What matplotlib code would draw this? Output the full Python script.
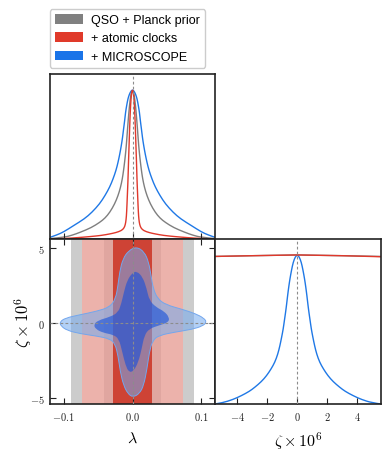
import matplotlib
matplotlib.use("Agg")
import matplotlib.pyplot as plt
from matplotlib.patches import Patch, PathPatch
from matplotlib.path import Path

plt.rcParams['mathtext.fontset'] = 'cm'
plt.rcParams['font.family'] = ['Liberation Sans', 'DejaVu Sans']

# colours of the three data sets
c_gray = '#7f7f7f'
c_red = '#e0382b'
c_blue = '#1f78e6'
labels = ['QSO + Planck prior', '+ atomic clocks', '+ MICROSCOPE']

# 1D marginal of lambda (normalised to peak)
lam_blue = [-0.12, -0.11, -0.10, -0.086, -0.07, -0.059, -0.048, -0.040, -0.033, -0.0283, -0.024, -0.021,
            -0.0185, -0.0163, -0.0145, -0.013, -0.0115, -0.0101, -0.0085, -0.0067, -0.0045, -0.002, 0.0,
            0.002, 0.0045, 0.0067, 0.0085, 0.0101, 0.0115, 0.013, 0.0145, 0.0163, 0.0185,
            0.021, 0.024, 0.0283, 0.033, 0.040, 0.048, 0.059, 0.07, 0.086, 0.10, 0.11, 0.12]
p_blue = [0.011, 0.027, 0.048, 0.089, 0.135, 0.179, 0.235, 0.291, 0.35, 0.403, 0.46, 0.515,
          0.57, 0.626, 0.68, 0.738, 0.79, 0.85, 0.895, 0.94, 0.972, 0.994, 1.0,
          0.994, 0.972, 0.94, 0.895, 0.85, 0.79, 0.738, 0.68, 0.626, 0.57,
          0.515, 0.46, 0.403, 0.35, 0.291, 0.235, 0.179, 0.135, 0.089, 0.048, 0.027, 0.011]
lam_gray = [-0.12, -0.10, -0.088, -0.076, -0.06, -0.0475, -0.040, -0.033, -0.026, -0.021, -0.0175, -0.0148,
            -0.013, -0.0115, -0.0102, -0.009, -0.0072, -0.0053, -0.0038, -0.0022, 0.0,
            0.0022, 0.0038, 0.0053, 0.0072, 0.009, 0.0102, 0.0115, 0.013,
            0.0148, 0.0175, 0.021, 0.026, 0.033, 0.040, 0.0475, 0.06, 0.076, 0.088, 0.10, 0.12]
p_gray = [0.003, 0.011, 0.025, 0.045, 0.076, 0.112, 0.14, 0.179, 0.235, 0.291, 0.345, 0.403,
          0.46, 0.515, 0.57, 0.626, 0.74, 0.85, 0.92, 0.975, 1.0,
          0.975, 0.92, 0.85, 0.74, 0.626, 0.57, 0.515, 0.46,
          0.403, 0.345, 0.291, 0.235, 0.179, 0.14, 0.112, 0.076, 0.045, 0.025, 0.011, 0.003]
lam_red = [-0.12, -0.10, -0.08, -0.062, -0.045, -0.033, -0.024, -0.0163, -0.0125, -0.0105, -0.0093, -0.0085,
           -0.0075, -0.0065, -0.0058, -0.005, -0.0042, -0.0033, -0.0022, -0.001, 0.0,
           0.001, 0.0022, 0.0033, 0.0042, 0.005, 0.0058, 0.0065, 0.0075,
           0.0085, 0.0093, 0.0105, 0.0125, 0.0163, 0.024, 0.033, 0.045, 0.062, 0.08, 0.10, 0.12]
p_red = [0.0, 0.003, 0.009, 0.016, 0.024, 0.034, 0.043, 0.056, 0.072, 0.095, 0.13, 0.179,
         0.29, 0.403, 0.52, 0.626, 0.74, 0.85, 0.94, 0.99, 1.0,
         0.99, 0.94, 0.85, 0.74, 0.626, 0.52, 0.403, 0.29,
         0.179, 0.13, 0.095, 0.072, 0.056, 0.043, 0.034, 0.024, 0.016, 0.009, 0.003, 0.0]

# 1D marginal of zeta x 1e6
zeta_blue = [-5.5, -5.0, -4.3, -3.73, -3.2, -2.84, -2.4, -2.05, -1.75, -1.50, -1.3, -1.16, -1.04, -0.94,
             -0.86, -0.78, -0.71, -0.645, -0.57, -0.49, -0.38, -0.27, -0.13, 0.0,
             0.13, 0.27, 0.38, 0.49, 0.57, 0.645, 0.71, 0.78, 0.86,
             0.94, 1.04, 1.16, 1.3, 1.50, 1.75, 2.05, 2.4, 2.84, 3.2, 3.73, 4.3, 5.0, 5.6]
pz_blue = [0.0, 0.008, 0.03, 0.056, 0.085, 0.112, 0.15, 0.19, 0.235, 0.28, 0.335, 0.391, 0.45, 0.503,
           0.56, 0.615, 0.67, 0.727, 0.785, 0.839, 0.9, 0.951, 0.988, 1.0,
           0.988, 0.951, 0.9, 0.839, 0.785, 0.727, 0.67, 0.615, 0.56,
           0.503, 0.45, 0.391, 0.335, 0.28, 0.235, 0.19, 0.15, 0.112, 0.085, 0.056, 0.03, 0.008, 0.0]
zeta_flat = [-5.5, -3.0, 0.0, 3.0, 5.6]
pz_gray = [0.99, 0.995, 1.0, 0.995, 0.99]
pz_red = [0.99, 0.995, 1.0, 0.995, 0.988]

# lambda intervals (68%, 95%) for the sets that do not constrain zeta
gray_lims = [0.041, 0.089]
red_lims = [0.028, 0.074]

# 2D contours (lambda, zeta) of the full combination, boundary vertices
outer_lam = [0.0062, 0.0173, 0.0235, 0.0269, 0.0302, 0.0364, 0.0484, 0.0724, 0.0916, 0.1036, 0.108, 0.102,
             0.0868, 0.0628, 0.0388, 0.0293, 0.0245, 0.0211, 0.0163, 0.0101, 0.0005, -0.0067, -0.0129,
             -0.0177, -0.0211, -0.0254, -0.0331, -0.0523, -0.0763, -0.0954, -0.104, -0.106, -0.0978,
             -0.0763, -0.0523, -0.0331, -0.0245, -0.0211, -0.0187, -0.0139, -0.0053]
outer_zeta = [5.08, 4.73, 4.06, 3.18, 2.29, 1.62, 1.22, 0.91, 0.62, 0.33, 0.06, -0.20,
              -0.42, -0.60, -0.82, -1.16, -1.94, -3.05, -4.16, -4.71, -4.95, -4.71, -4.16,
              -3.27, -2.16, -1.38, -1.05, -0.87, -0.71, -0.49, -0.20, 0.06, 0.33,
              0.55, 0.78, 1.06, 1.62, 2.51, 3.40, 4.29, 4.84]
inner_lam = [0.0062, 0.0149, 0.0206, 0.0245, 0.0341, 0.046, 0.0532, 0.0528, 0.0388, 0.0245, 0.0173, 0.0134,
             0.0086, 0.0014, -0.0053, -0.0101, -0.0149, -0.0197, -0.0283, -0.0427, -0.0532, -0.0566,
             -0.0499, -0.0331, -0.0211, -0.0163, -0.0125, -0.0077, -0.0005]
inner_zeta = [3.46, 3.06, 2.29, 1.51, 1.06, 0.78, 0.40, 0.06, -0.16, -0.38, -0.82, -1.71,
              -2.60, -3.22, -3.28, -2.82, -1.94, -1.05, -0.78, -0.65, -0.42, -0.11,
              0.18, 0.40, 0.69, 1.29, 2.06, 2.84, 3.33]

lam_ticks = [-0.1, 0.0, 0.1]
lam_ticklabels = ['$-0.1$', '$0.0$', '$0.1$']
zeta_yticks = [-5, 0, 5]
zeta_yticklabels = ['$-5$', '$0$', '$5$']
zeta_xticks = [-4, -2, 0, 2, 4]
zeta_xticklabels = ['$-4$', '$-2$', '$0$', '$2$', '$4$']

lam_range = (-0.12, 0.12)
zeta_range = (-5.4, 5.6)


def smooth_path(xs, ys, closed=False):
    # quadratic bezier through the midpoints, the read points act as control points
    pts = list(zip(xs, ys))
    n = len(pts)
    mid = lambda a, b: ((a[0] + b[0]) / 2, (a[1] + b[1]) / 2)
    if closed:
        verts = [mid(pts[-1], pts[0])]
        codes = [Path.MOVETO]
        for i in range(n):
            verts += [pts[i], mid(pts[i], pts[(i + 1) % n])]
            codes += [Path.CURVE3, Path.CURVE3]
        return Path(verts, codes)
    verts = [pts[0]]
    codes = [Path.MOVETO]
    for i in range(1, n - 1):
        end = pts[i + 1] if i == n - 2 else mid(pts[i], pts[i + 1])
        verts += [pts[i], end]
        codes += [Path.CURVE3, Path.CURVE3]
    return Path(verts, codes)


def curve(ax, xs, ys, color):
    ax.add_patch(PathPatch(smooth_path(xs, ys), facecolor='none', edgecolor=color, lw=1.0))


fig = plt.figure(figsize=(3.9, 4.56), dpi=100)
W, H = 390.0, 456.0
ax_top = fig.add_axes([50 / W, 1 - 240 / H, 165 / W, 165 / H])
ax_2d = fig.add_axes([50 / W, 1 - 405 / H, 165 / W, 165 / H])
ax_r = fig.add_axes([215 / W, 1 - 405 / H, 166 / W, 165 / H])

for ax in (ax_top, ax_2d, ax_r):
    for s in ax.spines.values():
        s.set_linewidth(1.2)
        s.set_color('#222222')
    ax.tick_params(direction='in', length=4, width=0.8, labelsize=7.5, colors='#222222')

dash = dict(color='#8c8c8c', lw=0.8, ls=(0, (2.5, 2)), zorder=5)

# top: lambda marginal
curve(ax_top, lam_blue, p_blue, c_blue)
curve(ax_top, lam_gray, p_gray, c_gray)
curve(ax_top, lam_red, p_red, c_red)
ax_top.axvline(0, **dash)
ax_top.set_xlim(lam_range)
ax_top.set_ylim(0, 1.107)
ax_top.set_xticks(lam_ticks)
ax_top.set_xticklabels([])
ax_top.set_yticks([])

# bottom left: 2D
ax_2d.axvspan(-gray_lims[1], gray_lims[1], color='#808080', alpha=0.4, lw=0)
ax_2d.axvspan(-gray_lims[0], gray_lims[0], color='#808080', alpha=0.4, lw=0)
ax_2d.axvspan(-red_lims[1], red_lims[1], color=(1.0, 0.64, 0.60), alpha=0.63, lw=0)
ax_2d.axvspan(-red_lims[0], red_lims[0], color=(0.80, 0.22, 0.16), alpha=0.9, lw=0)
outer = smooth_path(outer_lam, outer_zeta, closed=True)
inner = smooth_path(inner_lam, inner_zeta, closed=True)
ax_2d.add_patch(PathPatch(outer, facecolor=(0.45, 0.67, 0.94), alpha=0.55, edgecolor='none', zorder=3))
ax_2d.add_patch(PathPatch(outer, facecolor='none', edgecolor=(0.45, 0.65, 0.93), lw=0.7, zorder=3))
ax_2d.add_patch(PathPatch(inner, facecolor=(0.08, 0.31, 0.86), alpha=0.6, edgecolor='none', zorder=4))
ax_2d.axvline(0, **dash)
ax_2d.axhline(0, **dash)
ax_2d.set_xlim(lam_range)
ax_2d.set_ylim(zeta_range)
ax_2d.set_xticks(lam_ticks)
ax_2d.set_xticklabels(lam_ticklabels)
ax_2d.set_yticks(zeta_yticks)
ax_2d.set_yticklabels(zeta_yticklabels)
ax_2d.tick_params(top=True, right=True, pad=4)
ax_2d.set_xlabel(r'$\lambda$', fontsize=11.5, labelpad=6)
ax_2d.set_ylabel(r'$\zeta\times10^6$', fontsize=12, labelpad=-3)

# bottom right: zeta marginal
ax_r.plot(zeta_flat, pz_gray, color=c_gray, lw=1.0)
ax_r.plot(zeta_flat, pz_red, color=c_red, lw=1.0)
curve(ax_r, zeta_blue, pz_blue, c_blue)
ax_r.axvline(0, **dash)
ax_r.set_xlim(-5.5, 5.6)
ax_r.set_ylim(0, 1.107)
ax_r.set_xticks(zeta_xticks)
ax_r.set_xticklabels(zeta_xticklabels)
ax_r.set_yticks([])
ax_r.tick_params(pad=4)
ax_r.set_xlabel(r'$\zeta\times10^6$', fontsize=11.5, labelpad=6)

handles = [Patch(facecolor=c, edgecolor='none') for c in ('#808080', '#e03a2a', '#1a74e8')]
fig.legend(handles, labels, loc='upper left', bbox_to_anchor=(50 / W, 1 - 10 / H),
           fontsize=9, frameon=True, fancybox=True, edgecolor='#cccccc', framealpha=1,
           handlelength=2.2, handleheight=0.8, handletextpad=0.7, labelspacing=0.5,
           borderpad=0.4, borderaxespad=0)

fig.savefig('out.png', dpi=100)
